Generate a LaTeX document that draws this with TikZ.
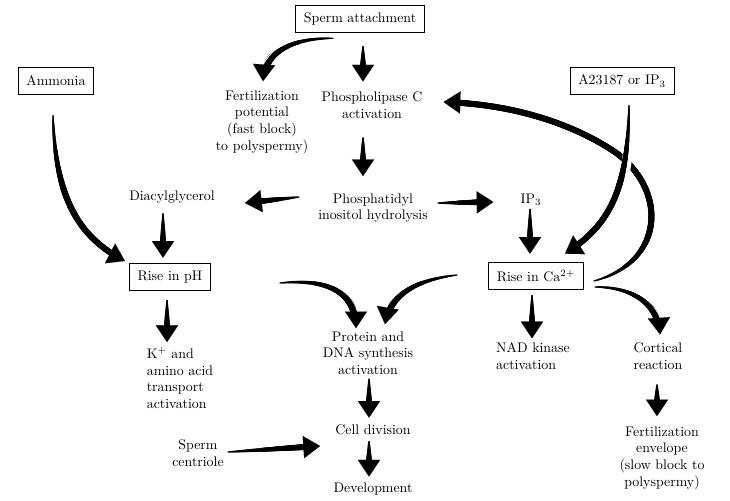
\documentclass[tikz,border=0pt]{standalone}
\usepackage{tikz}
\usetikzlibrary{arrows.meta,calc,decorations.markings}

\begin{document}
\begin{tikzpicture}[x=0.72pt,y=-0.72pt,
  box/.style={draw=black,line width=0.6pt,minimum height=20pt,inner xsep=6pt,inner ysep=3pt},
  txt/.style={align=center,inner sep=0pt},
  fat/.style={line width=0.05pt,-{Triangle[width=16pt,length=12pt]},
    postaction={decorate,decoration={markings,
      mark=between positions 0 and 1 step 0.4pt with {
        \pgfmathsetmacro\dd{\pgfkeysvalueof{/pgf/decoration/mark info/distance from start}}
        \pgfmathsetmacro\ll{\pgfdecoratedpathlength}
        \ifdim\dd pt<\dimexpr\ll pt-9pt\relax
          \pgfmathsetmacro\rr{0.4+1.8*(min(1,\dd/min(\ll-9,55)))^0.7}
          \fill (0,0) circle[radius=\rr pt];
        \fi}}}}]
  \useasboundingbox (0,0) rectangle (730,500);

  %boxes
  \node[box] (att) at (360,19) {Sperm attachment};
  \node[box] (amm) at (56,81) {Ammonia};
  \node[box] (ion) at (622,81) {A23187 or IP$_3$};
  \node[box] (ph) at (170,277) {Rise in pH};
  \node[box] (ca) at (536,276) {Rise in Ca$^{2+}$};

  %upper text
  \node[txt] (fpot) at (262,122) {Fertilization\\potential\\(fast block)\\to polyspermy)};
  \node[txt] (plc) at (372,105) {Phospholipase C\\activation};
  \node[txt] (pih) at (373,208) {Phosphatidyl\\inositol hydrolysis};
  \node[txt] (dag) at (172,197) {Diacylglycerol};
  \node[txt] (ip3) at (531,200) {IP$_3$};

  %lower text
  \node[txt,align=left] (kaa) at (180,378) {K$^+$ and\\amino acid\\transport\\activation};
  \node[txt] (prot) at (368,353) {Protein and\\DNA synthesis\\activation};
  \node[txt,align=left] (nad) at (533,356) {NAD kinase\\activation};
  \node[txt] (cort) at (658,356) {Cortical\\reaction};
  \node[txt] (cdiv) at (373,430) {Cell division};
  \node[txt] (dev) at (373,489) {Development};
  \node[txt] (cent) at (198,453) {Sperm\\centriole};
  \node[txt] (fenv) at (662,458) {Fertilization\\envelope\\(slow block to\\polyspermy)};

  \coordinate (phout) at (280,283);
  \coordinate (caout) at (457,275);

  %arrows
  \draw[fat] ($(att.south)+(3,13)$) -- ($(plc.north)+(-9,-10)$);
  \draw[fat] ($(att.south)+(-27,5)$) .. controls (295,38) and (265,50) .. ($(fpot.north)+(1,-9)$);
  \draw[fat] ($(plc.south)+(-9,19)$) -- ($(pih.north)+(-10,-17)$);
  \draw[fat] ($(pih.west)+(-19,-11)$) -- ($(dag.east)+(30,6)$);
  \draw[fat] ($(pih.east)+(10,-5)$) -- ($(ip3.west)+(-27,2)$);
  \draw[fat] ($(ip3.south)+(-1,3)$) -- ($(ca.north)+(-6,-8)$);
  \draw[fat] ($(dag.south)+(-9,10)$) -- ($(ph.north)+(-7,-5)$);
  \draw[fat] ($(amm.south)+(-3,20)$) .. controls (55,200) and (80,238) .. ($(ph.west)+(-4,-16)$);

  \draw[fat] ($(ca.east)+(10,5)$) .. controls (665,262) and (668,190) .. (615,152)
    .. controls (570,122) and (510,104) .. ($(plc.east)+(21,-3)$);
  \draw[preaction={draw=white,arrows=-,line width=7pt,shorten <=20pt,shorten >=20pt},fat]
    ($(ion.south)+(7,10)$) .. controls (628,190) and (610,225) .. ($(ca.north)+(29,-8)$);

  \draw[fat] ($(ca.south)+(-4,5)$) -- ($(nad.north)+(-1,-4)$);
  \draw[fat] ($(ca.east)+(11,11)$) .. controls (632,287) and (658,303) .. ($(cort.north)+(2,-8)$);
  \draw[fat] ($(ph.south)+(-3,9)$) -- ($(kaa.north)+(-13,-5)$);

  \draw[fat] (phout) .. controls (332,278) and (356,295) .. ($(prot.north)+(-12,-3)$);
  \draw[fat] (caout) .. controls (415,280) and (390,295) .. ($(prot.north)+(17,-7)$);

  \draw[fat] ($(prot.south)+(1,4)$) -- ($(cdiv.north)+(-4,-7)$);
  \draw[fat] ($(cdiv.south)+(-4,6)$) -- ($(dev.north)+(-4,-6)$);
  \draw[fat] ($(cent.east)+(4,-1)$) -- ($(cdiv.west)+(-15,16)$);
  \draw[fat] ($(cort.south)+(-1,15)$) -- ($(fenv.north)+(-5,-10)$);
\end{tikzpicture}
\end{document}
